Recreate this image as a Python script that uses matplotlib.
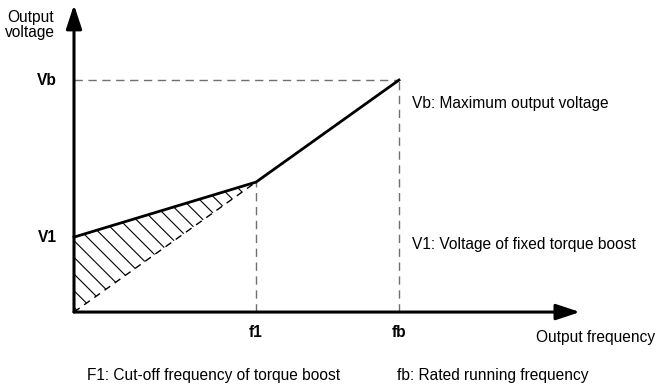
import matplotlib
matplotlib.use("Agg")
import matplotlib.pyplot as plt

plt.rcParams['font.family'] = ['Liberation Sans', 'DejaVu Sans']
plt.rcParams['hatch.linewidth'] = 0.8

# V/f curve (x: % of fb, y: % of Vb)
freq = [0, 56, 100]
volt = [32.3, 56, 100]
boost_lower = [0, 56]          # lower edge of the boost area (origin -> knee)
boost_lower_v = [0, 56]

tick_x = ['f1', 'fb']
tick_y = ['V1', 'Vb']

fig = plt.figure(figsize=(6.56, 3.9), dpi=100)
ax = fig.add_axes([0, 0, 1, 1])
ax.set_xlim(-22.77, 179.08)
ax.set_ylim(-33.6, 134.5)
ax.axis('off')

# axes with arrows
arrow = dict(arrowstyle='-|>,head_length=1.45,head_width=0.48', lw=2.2, color='black',
             shrinkA=0, shrinkB=0)
ax.annotate('', xy=(155.7, 0), xytext=(0, 0), arrowprops=arrow)
ax.annotate('', xy=(0, 132.4), xytext=(0, 0), arrowprops=arrow)

# dashed guide lines
dash = dict(ls=(0, (6, 4)), color='#707070', lw=1)
ax.plot([0, freq[2]], [volt[2], volt[2]], **dash)
ax.plot([freq[2], freq[2]], [0, volt[2]], **dash)
ax.plot([freq[1], freq[1]], [0, volt[1]], **dash)

# hatched boost area
ax.fill_between(boost_lower, volt[:2], boost_lower_v, facecolor='none', edgecolor='black',
                hatch='\\\\', lw=0)
ax.plot(boost_lower, boost_lower_v, color='black', lw=1, ls=(0, (5, 4)))

# V/f line
ax.plot(freq, volt, color='black', lw=2)

fs = 11.2
ax.text(-13.5, 130, 'Output\nvoltage', ha='center', va='top', fontsize=fs, linespacing=0.95)
ax.text(-5.2, volt[2], tick_y[1], ha='right', va='center', fontsize=fs, fontweight='bold')
ax.text(-5.2, volt[0], tick_y[0], ha='right', va='center', fontsize=fs, fontweight='bold')
ax.text(freq[1], -9, tick_x[0], ha='center', va='center', fontsize=fs, fontweight='bold')
ax.text(freq[2], -9, tick_x[1], ha='center', va='center', fontsize=fs, fontweight='bold')
ax.text(178.8, -10.8, 'Output frequency', ha='right', va='center', fontsize=fs)
ax.text(104, 90, 'Vb: Maximum output voltage', ha='left', va='center', fontsize=fs)
ax.text(104, 29, 'V1: Voltage of fixed torque boost', ha='left', va='center', fontsize=fs)
ax.text(4, -27.5, 'F1: Cut-off frequency of torque boost', ha='left', va='center', fontsize=fs)
ax.text(99.5, -27.5, 'fb: Rated running frequency', ha='left', va='center', fontsize=fs)

fig.savefig('out.png', dpi=100)
